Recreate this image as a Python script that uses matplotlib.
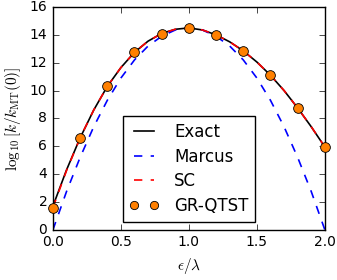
import matplotlib
matplotlib.use('Agg')
import matplotlib.pyplot as plt

# x grid for the curves (epsilon / lambda)
x = [0.0, 0.1, 0.2, 0.3, 0.4, 0.5, 0.6, 0.7, 0.8, 0.9, 1.0,
     1.1, 1.2, 1.3, 1.4, 1.5, 1.6, 1.7, 1.8, 1.9, 2.0]

exact = [1.7, 4.3, 6.6, 8.6, 10.3, 11.65, 12.75, 13.55, 14.1, 14.4, 14.5,
         14.35, 14.0, 13.5, 12.85, 12.05, 11.1, 10.0, 8.75, 7.4, 5.95]
marcus = [0.0, 2.75, 5.2, 7.4, 9.3, 10.9, 12.2, 13.2, 13.9, 14.35, 14.5,
          14.35, 13.9, 13.2, 12.2, 10.9, 9.3, 7.4, 5.2, 2.75, 0.0]
sc = [1.6, 4.25, 6.6, 8.6, 10.3, 11.65, 12.75, 13.55, 14.1, 14.4, 14.5,
      14.35, 14.0, 13.5, 12.85, 12.05, 11.1, 10.0, 8.75, 7.4, 5.95]

# GR-QTST points
xq = [0.0, 0.2, 0.4, 0.6, 0.8, 1.0, 1.2, 1.4, 1.6, 1.8, 2.0]
qtst = [1.55, 6.6, 10.3, 12.75, 14.05, 14.5, 14.0, 12.85, 11.1, 8.75, 5.95]

plt.style.use('classic')
plt.rcParams['figure.facecolor'] = 'white'
plt.rcParams['font.size'] = 10

fig = plt.figure(figsize=(3.37, 2.8), dpi=100)
ax = fig.add_axes([0.157, 0.179, 0.807, 0.796])

ax.plot(x, exact, '-k', lw=1.2, label='Exact')
ax.plot(x, marcus, '--', color='b', lw=1.2, label='Marcus')
ax.plot(x, sc, '--', color='r', lw=1.2, label='SC')
ax.plot(xq, qtst, 'o', color='#ff8000', mec='k', mew=0.6, ms=7,
        label='GR-QTST', clip_on=False, zorder=5)

ax.set_xlim(0, 2)
ax.set_ylim(0, 16)
ax.set_xticks([0.0, 0.5, 1.0, 1.5, 2.0])
ax.set_yticks(range(0, 17, 2))
ax.tick_params(labelsize=10)

ax.set_xlabel(r'$\epsilon/\lambda$', fontsize=11)
ax.set_ylabel(r'$\log_{10}[k/k_{\rm MT}(0)]$', fontsize=11)

ax.legend(loc='lower center', fontsize=12, numpoints=2, handlelength=1.8,
          handletextpad=0.9, borderaxespad=0.5, labelspacing=0.4,
          markerscale=0.85)

fig.savefig('out.png', dpi=100)
